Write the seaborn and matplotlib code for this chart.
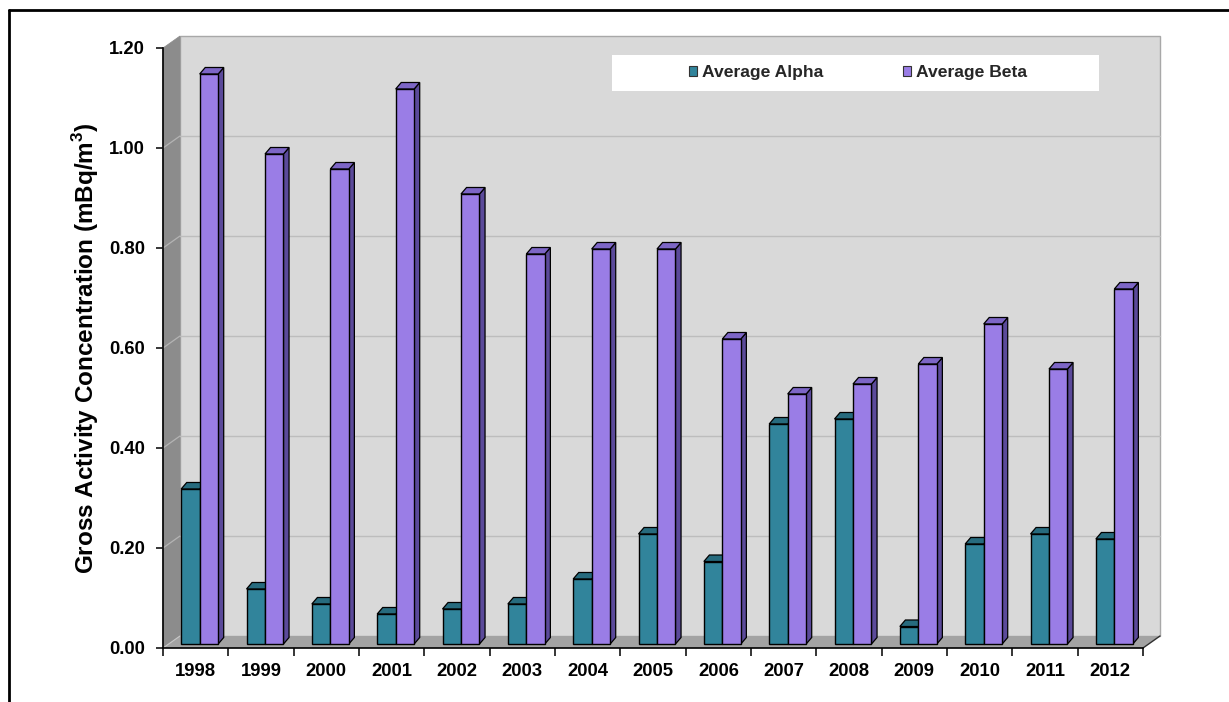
import numpy as np
import pandas as pd
import matplotlib
matplotlib.use("Agg")
import matplotlib.pyplot as plt
import seaborn as sns
from matplotlib.patches import Polygon, Rectangle, Patch
from matplotlib.lines import Line2D
from matplotlib.transforms import ScaledTranslation

# Annual averages of gross activity concentration (mBq/m3)
years = ["1998", "1999", "2000", "2001", "2002", "2003", "2004", "2005",
         "2006", "2007", "2008", "2009", "2010", "2011", "2012"]
alpha_avg = [0.31, 0.11, 0.08, 0.06, 0.07, 0.08, 0.13, 0.22,
             0.165, 0.44, 0.45, 0.035, 0.20, 0.22, 0.21]
beta_avg = [1.14, 0.98, 0.95, 1.11, 0.90, 0.78, 0.79, 0.79,
            0.61, 0.50, 0.52, 0.56, 0.64, 0.55, 0.71]
series_names = ["Average Alpha", "Average Beta"]
y_ticks = [0.0, 0.2, 0.4, 0.6, 0.8, 1.0, 1.2]

front_colors = {"Average Alpha": "#31849b", "Average Beta": "#9a7de6"}
top_colors = {"Average Alpha": "#276b7e", "Average Beta": "#7d66c6"}
side_colors = {"Average Alpha": "#1d5260", "Average Beta": "#5b4a9a"}

df = pd.DataFrame({
    "Year": years * 2,
    "Value": alpha_avg + beta_avg,
    "Series": [series_names[0]] * len(years) + [series_names[1]] * len(years),
})

sns.set_theme(style="white")
plt.rcParams["font.family"] = ["Liberation Sans", "DejaVu Sans"]
plt.rcParams["font.weight"] = "bold"

W, H = 1229, 702
fig = plt.figure(figsize=(W / 100, H / 100), dpi=100)
fig.patch.set_facecolor("white")
ax = fig.add_axes([163 / W, 54 / H, 980 / W, 600 / H])
ax.set_facecolor("none")

sns.barplot(data=df, x="Year", y="Value", hue="Series", order=years,
            hue_order=series_names, palette=front_colors, saturation=1,
            width=0.566, edgecolor="black", linewidth=1.0, legend=False, ax=ax)

ax.set_xlim(-0.5, len(years) - 0.5)
ax.set_ylim(0, 1.2)
x0, x1 = -0.5, len(years) - 0.5

# 3D box: back wall, left side wall and floor
WX, WY = 0.26, 0.024
back = Polygon([(x0 + WX, WY), (x1 + WX, WY), (x1 + WX, 1.2 + WY), (x0 + WX, 1.2 + WY)],
               closed=True, facecolor="#d9d9d9", edgecolor="#a8a8a8", lw=1.0,
               clip_on=False, zorder=0.5)
side = Polygon([(x0, 0), (x0 + WX, WY), (x0 + WX, 1.2 + WY), (x0, 1.2)],
               closed=True, facecolor="#8c8c8c", edgecolor="#8c8c8c", lw=0.5,
               clip_on=False, zorder=0.55)
floor = Polygon([(x0, 0), (x1, 0), (x1 + WX, WY), (x0 + WX, WY)],
                closed=True, facecolor="#a3a3a3", edgecolor="none",
                clip_on=False, zorder=0.55)
for p in (back, side, floor):
    ax.add_patch(p)
ax.plot([x1, x1 + WX], [0, WY], color="#303030", lw=1.0, clip_on=False, zorder=0.6)
ax.plot([x0, x0 + WX], [0, WY], color="#c8c8c8", lw=0.8, clip_on=False, zorder=0.6)

for v in y_ticks[1:-1]:
    ax.plot([x0 + WX, x1 + WX], [v + WY, v + WY], color="#bdbdbd", lw=1.0,
            clip_on=False, zorder=0.6)
    ax.plot([x0, x0 + WX], [v, v + WY], color="#b4b4b4", lw=0.9,
            clip_on=False, zorder=0.6)

# Bars sit slightly behind the front edge; add top and side faces for depth
front = ax.transData + ScaledTranslation(4 / 100, 4 / 100, fig.dpi_scale_trans)
DX, DY = 0.085, 0.013
bars = []
for cont, name in zip(ax.containers, series_names):
    for rect in cont:
        bars.append((rect.get_x(), rect, name))
bars.sort(key=lambda t: t[0])
z = 3.0
for _, rect, name in bars:
    x, w, h = rect.get_x(), rect.get_width(), rect.get_height()
    top = Polygon([(x, h), (x + w, h), (x + w + DX, h + DY), (x + DX, h + DY)],
                  closed=True, facecolor=top_colors[name], edgecolor="black",
                  lw=0.9, transform=front, clip_on=False, zorder=z)
    sd = Polygon([(x + w, 0), (x + w + DX, DY), (x + w + DX, h + DY), (x + w, h)],
                 closed=True, facecolor=side_colors[name], edgecolor="black",
                 lw=0.9, transform=front, clip_on=False, zorder=z)
    ax.add_patch(sd)
    ax.add_patch(top)
    rect.set_transform(front)
    rect.set_clip_on(False)
    rect.set_zorder(z + 0.5)
    z += 1

# Axes, ticks and labels
for s in ("top", "right"):
    ax.spines[s].set_visible(False)
for s in ("left", "bottom"):
    ax.spines[s].set_color("black")
    ax.spines[s].set_linewidth(1.2)
    ax.spines[s].set_zorder(2)

ax.set_yticks(y_ticks)
ax.set_yticklabels([f"{v:.2f}" for v in y_ticks])
ax.tick_params(axis="y", direction="out", length=5, width=1.1, color="black",
               pad=8, labelsize=13.3, left=True)
ax.set_xticks(range(len(years)))
ax.set_xticklabels(years)
ax.set_xticks(np.arange(x0, x1 + 0.01, 1.0), minor=True)
ax.tick_params(axis="x", which="major", length=0, pad=11, labelsize=13.3)
ax.tick_params(axis="x", which="minor", direction="out", length=6, width=1.1,
               color="black", bottom=True)
for lab in ax.get_xticklabels() + ax.get_yticklabels():
    lab.set_fontweight("bold")
    lab.set_color("black")

ax.set_xlabel("")
ax.set_ylabel("Gross Activity Concentration (mBq/m$^\\mathregular{3}$)", fontsize=17.5,
              fontweight="bold", color="black", labelpad=6)

# Legend panel
ax.add_patch(Rectangle((612 / W, 1 - 91 / H), 487 / W, 36 / H, transform=fig.transFigure,
                       facecolor="white", edgecolor="none", clip_on=False, zorder=1))
handles = [Patch(facecolor=front_colors[n], edgecolor="#333333", lw=0.8, label=n)
           for n in series_names]
leg = ax.legend(handles=handles, loc="center", bbox_to_anchor=(858 / W, 1 - 73 / H),
                bbox_transform=fig.transFigure, ncol=2, frameon=False,
                prop={"weight": "bold", "size": 12.6}, handlelength=0.5,
                handleheight=0.5, handletextpad=0.3, columnspacing=4.5)
leg.set_zorder(10)

# Outer frame
fig.add_artist(Line2D([9 / W, 1], [1 - 10 / H, 1 - 10 / H], transform=fig.transFigure,
                      color="black", lw=2))
fig.add_artist(Line2D([9 / W, 9 / W], [0, 1 - 10 / H], transform=fig.transFigure,
                      color="black", lw=2))

fig.savefig("out.png", dpi=100, facecolor="white")
